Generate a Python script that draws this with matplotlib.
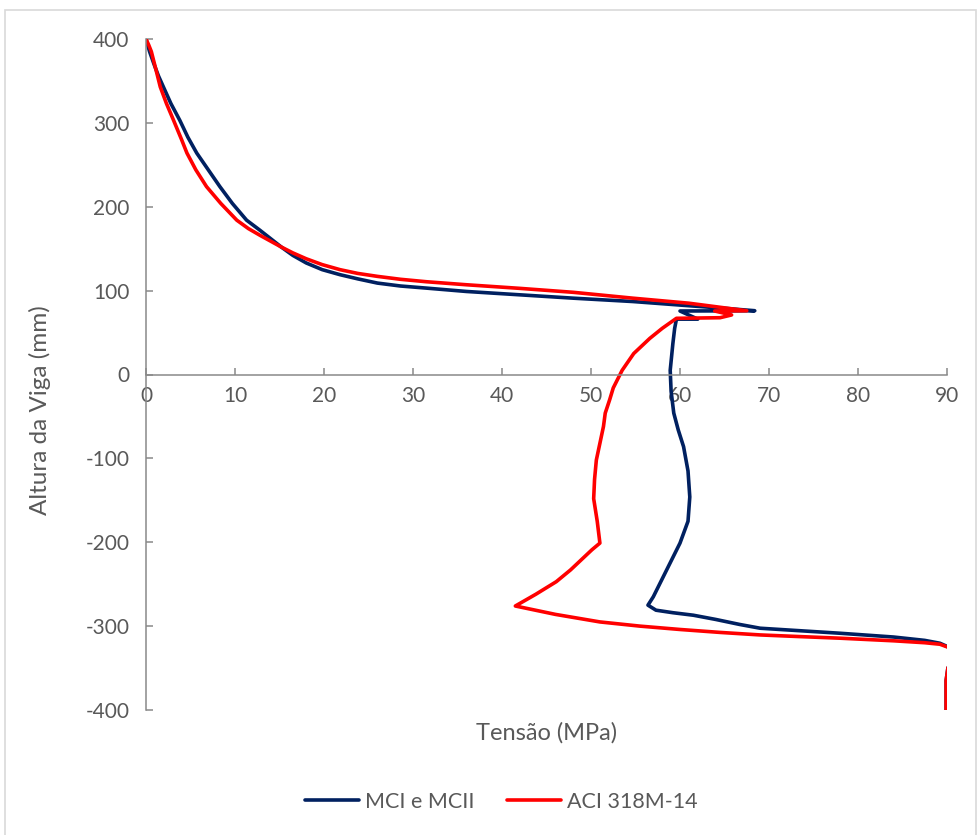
import matplotlib.pyplot as plt
from matplotlib.patches import Rectangle

plt.rcParams['axes.unicode_minus'] = False

# MCI e MCII (tension MPa, height mm)
mci_x = [0.0, 0.4, 0.9, 1.4, 1.95, 2.8, 3.8, 4.7, 5.7, 7.0, 8.3, 9.7, 11.3,
         12.8, 14.0, 15.2, 16.5, 18.0, 19.8, 21.8, 23.8, 26.0, 28.6,
         31.5, 36.0, 42.0, 48.0, 54.7, 61.0, 65.5, 68.4, 60.0, 62.0, 59.6,
         59.4, 59.2, 58.9, 59.0, 59.3, 59.8, 60.4, 60.9, 61.1, 60.9, 60.0,
         58.5, 57.0, 56.4, 57.3, 59.2, 61.5, 64.0,
         66.7, 69.0, 73.5, 78.0, 84.0, 87.5, 89.2, 90.6, 90.6, 90.1, 89.9, 89.9]
mci_y = [400, 385, 370, 356, 343, 323, 303, 283, 264, 244, 224, 204, 184,
         172, 162, 152, 142, 133, 125, 119, 114, 109, 105.5,
         103, 99, 95, 91, 87, 82, 78.5, 76, 75.7, 66, 66,
         55, 37, 5, -20, -46, -66, -86, -115, -146, -175, -201,
         -233, -265, -275, -281, -284, -287, -292,
         -298, -302.5, -305.5, -308.5, -313, -317, -320.4, -327, -340, -350, -365, -400]

# ACI 318M-14
aci_x = [0.0, 0.3, 0.6, 1.2, 1.6, 2.3, 3.1, 4.0, 4.6, 5.6, 6.8, 8.4, 10.2,
         11.5, 12.8, 14.0, 15.2, 16.5, 18.0, 19.8,
         21.8, 23.8, 26.0, 28.6, 31.5, 36.0, 42.0, 48.0, 54.7, 61.0, 67.5, 63.9, 65.8,
         64.5, 59.6, 58.0, 56.6, 54.8, 53.5, 52.5, 52.1, 51.6, 51.4, 51.0, 50.6,
         50.4, 50.3, 50.7, 51.0, 50.1,
         49.1, 47.7, 46.1, 43.8, 41.5, 46.0, 51.0, 55.5, 60.0, 64.5, 69.0, 73.5,
         78.0, 84.0, 87.5, 89.2, 90.6, 90.6, 90.1, 89.9, 89.9]
aci_y = [400, 393, 385, 360, 343, 323, 303, 280, 264, 244, 224, 204, 184,
         174, 166, 159, 152, 145, 138, 131,
         125, 120.5, 117, 113.5, 110.6, 107, 102.7, 98, 91, 85, 76, 75.7, 71,
         67.7, 67, 55, 43, 25, 5, -16, -30, -46, -62, -82, -102,
         -125, -148, -175, -201, -209,
         -219, -233, -247, -262, -276, -286, -295, -300, -304, -307.5, -310.5, -312.5,
         -314.4, -317.5, -319.8, -321.6, -327, -340, -350, -365, -400]

x_ticks = list(range(0, 91, 10))
y_ticks = list(range(-400, 401, 100))

W, H = 977, 835
fig = plt.figure(figsize=(W / 100, H / 100), dpi=100)
fig.patches.append(Rectangle((5 / W, -0.01), (971 / W), 1 - 10 / H + 0.01,
                             transform=fig.transFigure, fill=False,
                             edgecolor='#D9D9D9', linewidth=1.2))

left, right, top, bottom = 146, 947, 39, 710
ax = fig.add_axes([left / W, 1 - bottom / H, (right - left) / W, (bottom - top) / H])

ax.plot(mci_x, mci_y, color='#002060', linewidth=2.6, solid_joinstyle='round',
        solid_capstyle='round', label='MCI e MCII')
ax.plot(aci_x, aci_y, color='#FF0000', linewidth=2.6, solid_joinstyle='round',
        solid_capstyle='round', label='ACI 318M-14')

ax.set_xlim(0, 90)
ax.set_ylim(-400, 400)

grey = '#898989'
for s in ['top', 'right']:
    ax.spines[s].set_visible(False)
ax.spines['bottom'].set_position(('data', 0))
ax.spines['bottom'].set_color(grey)
ax.spines['left'].set_color(grey)
ax.spines['bottom'].set_linewidth(1.1)
ax.spines['left'].set_linewidth(1.1)

font = 'Lato'
ax.set_xticks(x_ticks)
ax.set_yticks(y_ticks)
ax.tick_params(direction='in', length=5, width=1.1, color=grey,
               labelcolor='#595959', labelsize=15)
ax.tick_params(axis='x', pad=8)
ax.tick_params(axis='y', pad=12)
for lab in ax.get_xticklabels() + ax.get_yticklabels():
    lab.set_fontfamily(font)

fig.text(547 / W, 1 - 733 / H, 'Tensão (MPa)', ha='center', va='center',
         fontsize=17, color='#595959', family=font)
fig.text(40 / W, 1 - 410 / H, 'Altura da Viga (mm)', ha='center', va='center',
         rotation=90, fontsize=17.5, color='#595959', family=font)

leg = fig.legend(loc='center', bbox_to_anchor=(501 / W, 1 - 802 / H), ncol=2,
                 frameon=False, handlelength=2.55, handletextpad=0.25,
                 columnspacing=1.5, prop={'family': font, 'size': 15.5})
for t in leg.get_texts():
    t.set_color('#595959')

fig.savefig('out.png', dpi=100)
